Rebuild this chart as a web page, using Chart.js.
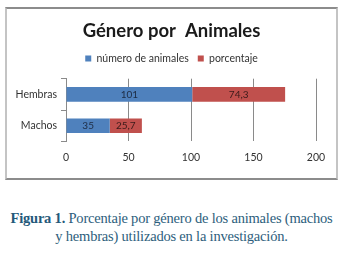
<!DOCTYPE html>
<html>
<head>
<meta charset="utf-8">
<script src="https://cdn.jsdelivr.net/npm/chart.js@4"></script>
<style>
  html, body { margin:0; padding:0; background:#fff; }
  body { width:343px; height:253px; position:relative; overflow:hidden; }
  #box { position:absolute; left:5px; top:7px; width:329px; height:169px;
         border-top:2px solid #8c8c8c; border-left:2px solid #c4c4c4;
         border-right:2px solid #c4c4c4; border-bottom:2px solid #8c8c8c; background:#fff; }
  #box canvas { display:block; }
  #cap { position:absolute; left:0; top:209px; width:343px; text-align:center;
         font-family:"Liberation Serif","DejaVu Serif",serif; font-size:14.5px; line-height:18px;
         color:#2d5e7c; letter-spacing:-0.2px; }
  #cap b { color:#24597a; }
</style>
</head>
<body>
<div id="box"><canvas id="c" width="329" height="169"></canvas></div>
<div id="cap"><b>Figura 1.</b> Porcentaje por género de los animales (machos<br>y hembras) utilizados en la investigación.</div>
<script>
const categories = ["Hembras", "Machos"];
const numeroAnimales = [101, 35];
const porcentaje = [74.3, 25.7];
const porcentajeLabels = ["74,3", "25,7"];
const xTicks = [0, 50, 100, 150, 200];
const seriesNames = ["número de animales", "porcentaje"];

const FONT = "Lato, 'Open Sans', sans-serif";

const labelPlugin = {
  id: 'barLabels',
  afterDatasetsDraw(chart) {
    const ctx = chart.ctx;
    ctx.save();
    ctx.font = "10px " + FONT;
    ctx.textAlign = 'center';
    ctx.textBaseline = 'middle';
    chart.data.datasets.forEach((ds, di) => {
      const meta = chart.getDatasetMeta(di);
      meta.data.forEach((el, i) => {
        const cx = (el.x + el.base) / 2;
        ctx.fillStyle = di === 0 ? '#1d2c44' : '#3a1a1a';
        ctx.fillText(ds.labelsText[i], cx, el.y + 0.5);
      });
    });
    ctx.restore();
  }
};

const hiddenAxis = (pos, size) => ({
  type: 'linear', position: pos, display: true,
  ticks: { display: false }, grid: { display: false }, border: { display: false },
  afterFit(s) { if (pos === 'top') s.height = size; else s.width = size; }
});

new Chart(document.getElementById('c'), {
  type: 'bar',
  data: {
    labels: categories,
    datasets: [
      { label: seriesNames[0], data: numeroAnimales, backgroundColor: '#4f81bd',
        labelsText: numeroAnimales.map(String), barPercentage: 0.58, categoryPercentage: 0.8 },
      { label: seriesNames[1], data: porcentaje, backgroundColor: '#c0504d',
        labelsText: porcentajeLabels, barPercentage: 0.58, categoryPercentage: 0.8 }
    ]
  },
  options: {
    indexAxis: 'y',
    responsive: false,
    animation: false,
    devicePixelRatio: 1,
    layout: { padding: { left: 0, right: 0, top: 6, bottom: 4 } },
    plugins: {
      title: { display: true, text: 'Género por  Animales', color: '#1a1a1a',
               font: { family: FONT, size: 18.5, weight: 'bold' }, padding: { top: 5, bottom: 2 } },
      legend: { display: true, position: 'top',
                labels: { boxWidth: 6, boxHeight: 6, color: '#333', padding: 9,
                          font: { family: FONT, size: 10.5 } } },
      tooltip: { enabled: false }
    },
    scales: {
      x: {
        stacked: true, min: 0, max: 200,
        afterBuildTicks(s) { s.ticks = xTicks.map(v => ({ value: v })); },
        ticks: { color: '#333', font: { family: FONT, size: 10.5 }, padding: 10 },
        grid: { color: '#8a8a8a', lineWidth: 1, tickLength: 0, drawTicks: false },
        border: { display: false }
      },
      y: {
        stacked: true,
        afterFit(s) { s.width = 59; },
        ticks: { color: '#333', font: { family: FONT, size: 10.5 }, padding: 4 },
        grid: { drawOnChartArea: false, color: '#8a8a8a', tickLength: 5 },
        border: { display: true, color: '#8a8a8a' }
      },
      padTop: hiddenAxis('top', 5),
      padRight: hiddenAxis('right', 20)
    }
  },
  plugins: [labelPlugin]
});
</script>
</body>
</html>
